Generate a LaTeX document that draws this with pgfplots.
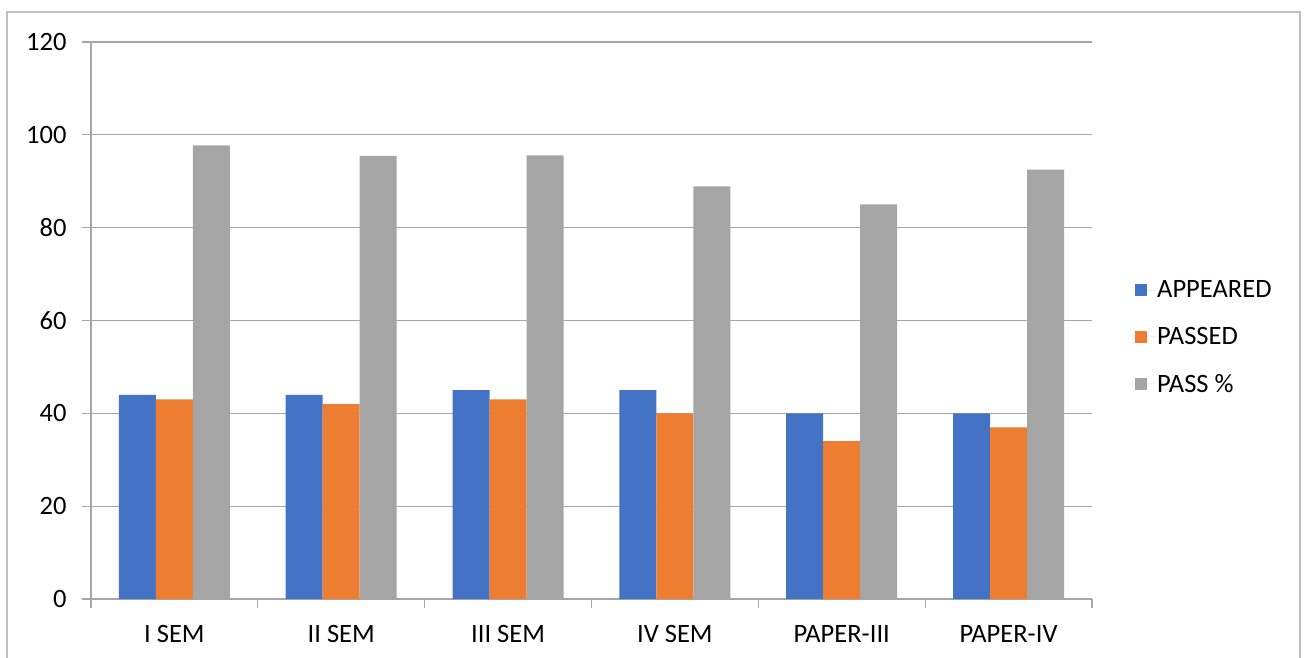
\documentclass[border=0pt]{standalone}
\usepackage{fontspec}
\setmainfont{Carlito}
\usepackage{pgfplots}
\pgfplotsset{compat=1.18}
\definecolor{cblue}{HTML}{4472C4}
\definecolor{corange}{HTML}{ED7D31}
\definecolor{cgray}{HTML}{A5A5A5}
\definecolor{gridc}{HTML}{A6A6A6}
\definecolor{framec}{HTML}{BFBFBF}
\begin{document}
\begin{tikzpicture}[x=1pt,y=1pt]
\useasboundingbox (0,0) rectangle (1304,657);
\begin{scope}
\clip (0,0) rectangle (1304,657);
\draw[framec, line width=1.5pt] (7,-20) -- (7,645) -- (1300,645) -- (1300,-20);
\end{scope}
\begin{axis}[
  at={(91pt,58pt)}, anchor=south west,
  scale only axis, width=1001pt, height=557pt,
  ybar=0pt, bar width=37pt,
  xmin=-0.5, xmax=5.5, ymin=0, ymax=120,
  ytick={0,20,...,120},
  xtick={0,1,2,3,4,5},
  xticklabels={I SEM, II SEM, III SEM, IV SEM, PAPER-III, PAPER-IV},
  minor xtick={-0.5,0.5,1.5,2.5,3.5,4.5,5.5},
  major x tick style={draw=none},
  minor x tick style={gridc, line width=1.2pt},
  y tick style={gridc, line width=1.2pt},
  tick align=outside,
  major tick length=9pt, minor tick length=9pt,
  xtick pos=bottom, ytick pos=left,
  axis x line*=bottom, axis y line*=left,
  axis line style={gridc, line width=1.2pt, -},
  ymajorgrids, grid style={gridc, line width=1.2pt},
  tick label style={font=\fontsize{26.5}{30}\selectfont, text=black},
  /pgf/number format/assume math mode=true,
  yticklabel style={xshift=-12pt},
  xticklabel style={yshift=-14pt},
  legend style={at={(1.043,0.47)}, anchor=west, draw=none, fill=none,
    font=\fontsize{26.5}{30}\selectfont, row sep=24pt, inner sep=0pt},
  legend cell align=left,
  legend image code/.code={\fill[#1] (0pt,-6pt) rectangle (12pt,6pt); \path (0pt,0pt) -- (20pt,0pt);},
  clip=false,
]
\addplot[fill=cblue, draw=none] coordinates {(0,44) (1,44) (2,45) (3,45) (4,40) (5,40)};
\addplot[fill=corange, draw=none] coordinates {(0,43) (1,42) (2,43) (3,40) (4,34) (5,37)};
\addplot[fill=cgray, draw=none] coordinates {(0,97.73) (1,95.45) (2,95.56) (3,88.89) (4,85) (5,92.5)};
\legend{APPEARED, PASSED, PASS \%}
\end{axis}
\end{tikzpicture}
\end{document}
